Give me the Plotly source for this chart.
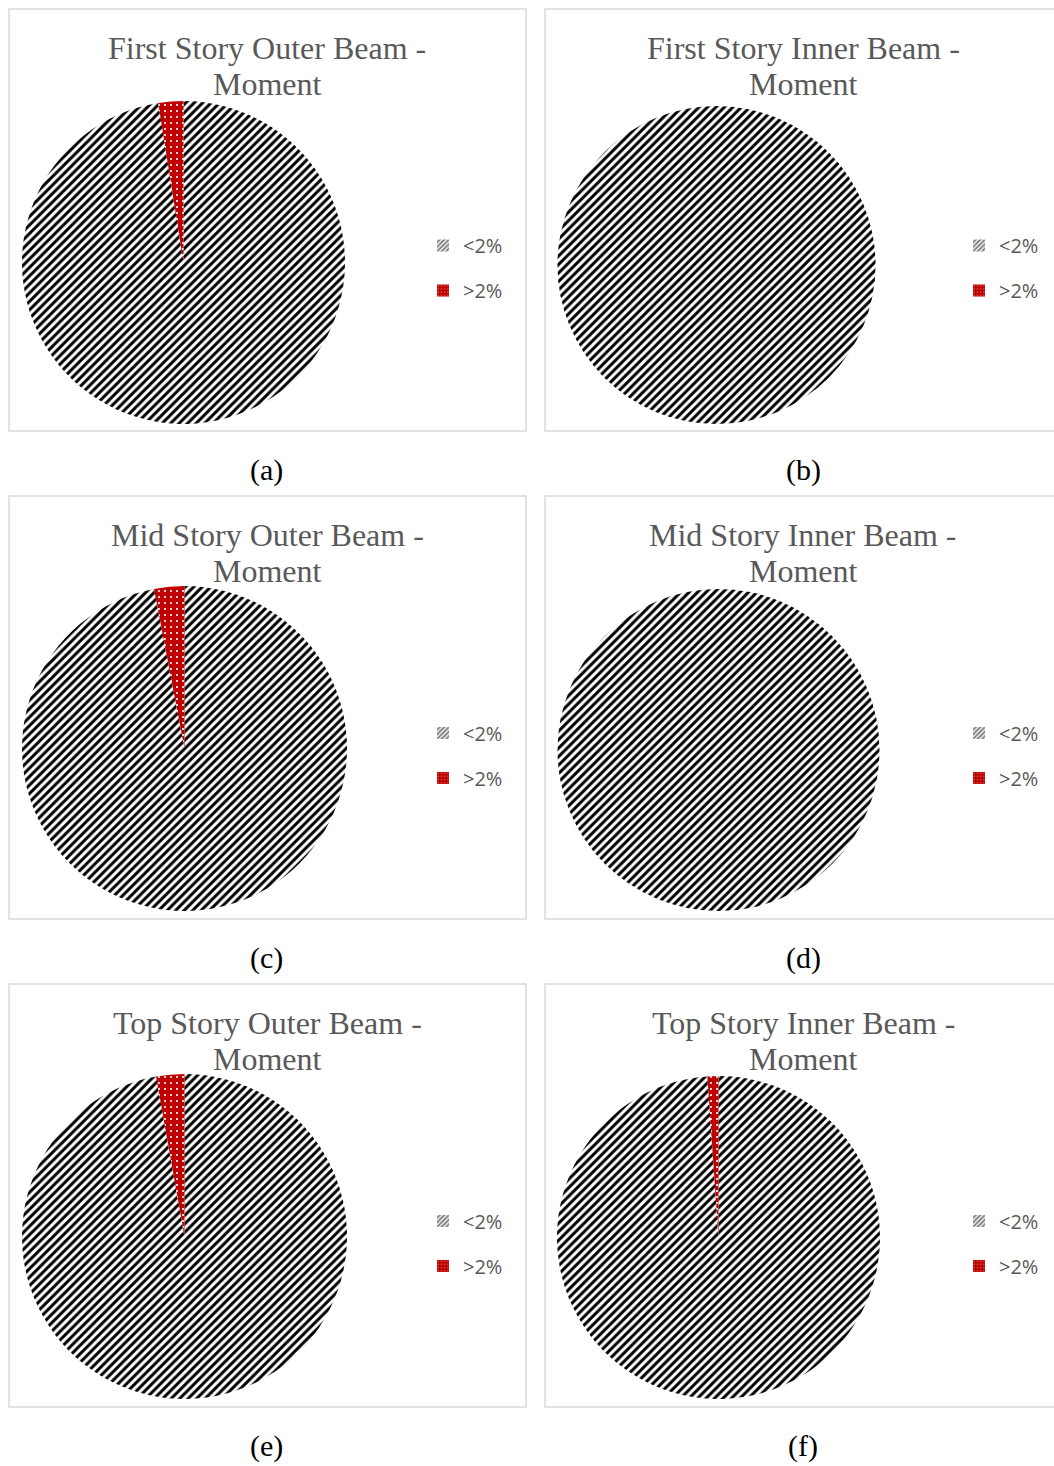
import plotly.graph_objects as go

W, H = 1054, 1466

labels = ["<2%", ">2%"]
title_top = [
    "First Story Outer Beam -", "First Story Inner Beam -",
    "Mid Story Outer Beam -", "Mid Story Inner Beam -",
    "Top Story Outer Beam -", "Top Story Inner Beam -",
]
title_bottom = ["Moment"] * 6
captions = ["(a)", "(b)", "(c)", "(d)", "(e)", "(f)"]
below_2 = [97.5, 100, 97.0, 100, 97.2, 98.9]
above_2 = [2.5, 0, 3.0, 0, 2.8, 1.1]

# panel geometry in pixels: box (x0, y0, x1, y1), pie (x0, y0, x1, y1)
boxes = [
    (9, 9, 526, 431), (545, 9, 1061, 431),
    (9, 496, 526, 919), (545, 496, 1061, 919),
    (9, 984, 526, 1407), (545, 984, 1061, 1407),
]
pies = [
    (22, 101, 345, 424), (557, 106, 876, 424),
    (22, 586, 347, 911), (557, 589, 880, 911),
    (22, 1074, 347, 1399), (557, 1076, 880, 1399),
]


def px(x):
    return x / W


def py(y):
    return 1 - y / H


stripe = dict(shape="/", fgcolor="black", bgcolor="white", size=6, solidity=0.5)
dots = dict(shape=".", fgcolor="white", bgcolor="#c00000", size=6, solidity=0.1)
# legend swatches are tiny, so use a tighter, darker tile there
stripe_leg = dict(shape="/", fgcolor="black", bgcolor="white", size=4, solidity=0.6)
dots_leg = dict(shape=".", fgcolor="white", bgcolor="#c00000", size=4, solidity=0.15)
serif = "Liberation Serif, Times New Roman, serif"

fig = go.Figure()

for i in range(6):
    bx0, by0, bx1, by1 = boxes[i]
    qx0, qy0, qx1, qy1 = pies[i]
    fig.add_trace(go.Pie(
        labels=labels,
        values=[below_2[i], above_2[i]],
        sort=False,
        direction="clockwise",
        rotation=0,
        textinfo="none",
        hoverinfo="label+percent",
        showlegend=False,
        domain=dict(x=[px(qx0), px(qx1)], y=[py(qy1), py(qy0)]),
        marker=dict(
            colors=["black", "#c00000"],
            line=dict(width=0),
            pattern=dict(
                shape=[stripe["shape"], dots["shape"]],
                fgcolor=[stripe["fgcolor"], dots["fgcolor"]],
                bgcolor=[stripe["bgcolor"], dots["bgcolor"]],
                size=[stripe["size"], dots["size"]],
                solidity=[stripe["solidity"], dots["solidity"]],
            ),
        ),
    ))

    # legend entries (one legend per panel)
    lname = "legend" if i == 0 else f"legend{i + 1}"
    for lab, pat, col in [(labels[0], stripe_leg, "black"), (labels[1], dots_leg, "#c00000")]:
        fig.add_trace(go.Bar(
            x=[None], y=[None], name=lab, legend=lname, legendgroup=f"{i}{lab}",
            marker=dict(color=col, line=dict(width=0), pattern=pat),
            hoverinfo="skip",
        ))

    right = i % 2 == 1
    leg_x = 959 if right else 423
    leg_y = (by0 + by1) / 2 + 48
    fig.update_layout({lname: dict(
        x=px(leg_x), y=py(leg_y), xanchor="left", yanchor="middle",
        bgcolor="rgba(0,0,0,0)", tracegroupgap=16,
        font=dict(family="Open Sans, sans-serif", size=20, color="#595959"),
    )})

    fig.add_shape(type="rect", xref="paper", yref="paper",
                  x0=px(bx0), x1=px(bx1), y0=py(by1), y1=py(by0),
                  line=dict(color="#d9d9d9", width=1.5))

    cx = 803 if right else 267
    for txt, dy in [(title_top[i], 39), (title_bottom[i], 75)]:
        fig.add_annotation(
            text=txt, xref="paper", yref="paper",
            x=px(cx), y=py(by0 + dy), xanchor="center", yanchor="middle",
            showarrow=False,
            font=dict(family=serif, size=32, color="#595959"),
        )
    fig.add_annotation(
        text=captions[i], xref="paper", yref="paper",
        x=px(803 if right else 266), y=py(by1 + 39), xanchor="center", yanchor="middle",
        showarrow=False,
        font=dict(family=serif, size=30, color="black"),
    )

fig.update_layout(
    width=W, height=H,
    margin=dict(l=0, r=0, t=0, b=0),
    paper_bgcolor="white", plot_bgcolor="white",
    xaxis=dict(visible=False), yaxis=dict(visible=False),
)

fig.write_html(
    "out.html",
    config={"displayModeBar": False},
    post_script="document.body.style.margin = '0';",
)
